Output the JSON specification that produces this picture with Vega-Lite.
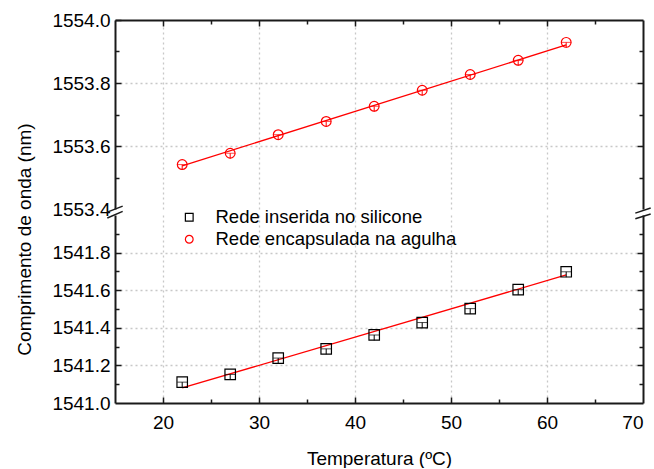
{
  "$schema": "https://vega.github.io/schema/vega-lite/v6.json",
  "padding": {"left": 15, "top": 11, "right": 5, "bottom": 0},
  "bounds": "flush",
  "title": {
    "text": "Comprimento de onda (nm)",
    "orient": "left",
    "anchor": "middle",
    "font": "Liberation Sans",
    "fontSize": 19,
    "fontWeight": "normal",
    "color": "#000000",
    "offset": 17
  },
  "config": {
    "font": "Liberation Sans",
    "view": {"stroke": null},
    "axis": {
      "labelFont": "Liberation Sans",
      "labelFontSize": 19,
      "labelColor": "#000000",
      "titleFont": "Liberation Sans",
      "titleFontSize": 19,
      "titleFontWeight": "normal",
      "titleColor": "#000000",
      "domainColor": "#1a1a1a",
      "domainWidth": 2,
      "tickColor": "#1a1a1a",
      "tickWidth": 1.5,
      "tickSize": -6,
      "gridColor": "#c8c8c8",
      "gridDash": [2, 3],
      "gridWidth": 1.3
    },
    "legend": {
      "labelFont": "Liberation Sans",
      "labelFontSize": 18.5,
      "labelColor": "#000000",
      "labelLimit": 400
    }
  },
  "datasets": {
    "medidas": [
      {"serie": "Rede encapsulada na agulha", "temp": 22, "lambda": 1553.541, "lambda_min": 1553.524},
      {"serie": "Rede encapsulada na agulha", "temp": 27, "lambda": 1553.577, "lambda_min": 1553.560},
      {"serie": "Rede encapsulada na agulha", "temp": 32, "lambda": 1553.636, "lambda_min": 1553.619},
      {"serie": "Rede encapsulada na agulha", "temp": 37, "lambda": 1553.678, "lambda_min": 1553.661},
      {"serie": "Rede encapsulada na agulha", "temp": 42, "lambda": 1553.726, "lambda_min": 1553.709},
      {"serie": "Rede encapsulada na agulha", "temp": 47, "lambda": 1553.777, "lambda_min": 1553.760},
      {"serie": "Rede encapsulada na agulha", "temp": 52, "lambda": 1553.827, "lambda_min": 1553.810},
      {"serie": "Rede encapsulada na agulha", "temp": 57, "lambda": 1553.872, "lambda_min": 1553.855},
      {"serie": "Rede encapsulada na agulha", "temp": 62, "lambda": 1553.929, "lambda_min": 1553.912},
      {"serie": "Rede inserida no silicone", "temp": 22, "lambda": 1541.111, "lambda_min": 1541.082},
      {"serie": "Rede inserida no silicone", "temp": 27, "lambda": 1541.152, "lambda_min": 1541.123},
      {"serie": "Rede inserida no silicone", "temp": 32, "lambda": 1541.239, "lambda_min": 1541.210},
      {"serie": "Rede inserida no silicone", "temp": 37, "lambda": 1541.288, "lambda_min": 1541.259},
      {"serie": "Rede inserida no silicone", "temp": 42, "lambda": 1541.362, "lambda_min": 1541.333},
      {"serie": "Rede inserida no silicone", "temp": 47, "lambda": 1541.428, "lambda_min": 1541.399},
      {"serie": "Rede inserida no silicone", "temp": 52, "lambda": 1541.502, "lambda_min": 1541.473},
      {"serie": "Rede inserida no silicone", "temp": 57, "lambda": 1541.603, "lambda_min": 1541.574},
      {"serie": "Rede inserida no silicone", "temp": 62, "lambda": 1541.698, "lambda_min": 1541.669}
    ],
    "ajuste": [
      {"serie": "Rede encapsulada na agulha", "temp": 22, "lambda": 1553.537},
      {"serie": "Rede encapsulada na agulha", "temp": 62, "lambda": 1553.921},
      {"serie": "Rede inserida no silicone", "temp": 22, "lambda": 1541.080},
      {"serie": "Rede inserida no silicone", "temp": 62, "lambda": 1541.681}
    ]
  },
  "spacing": 6,
  "vconcat": [
    {
      "width": 528,
      "height": 189,
      "layer": [
        {
          "data": {"name": "ajuste"},
          "transform": [{"filter": "datum.serie == 'Rede encapsulada na agulha'"}],
          "mark": {"type": "line", "color": "#ff0000", "strokeWidth": 1.3},
          "encoding": {
            "x": {
              "field": "temp", "type": "quantitative",
              "scale": {"domain": [15, 70], "nice": false, "zero": false},
              "axis": {
                "orient": "top", "title": null, "labels": false,
                "values": [20, 25, 30, 35, 40, 45, 50, 55, 60, 65],
                "tickSize": {"condition": {"test": "datum.value % 10 != 0", "value": -4}, "value": -6},
                "gridOpacity": {"condition": {"test": "datum.value % 10 != 0", "value": 0}, "value": 1}
              }
            },
            "y": {
              "field": "lambda", "type": "quantitative",
              "scale": {"domain": [1553.4, 1554.0], "nice": false, "zero": false},
              "axis": {
                "orient": "left", "title": null,
                "values": [1553.4, 1553.5, 1553.6, 1553.7, 1553.8, 1553.9, 1554.0],
                "format": ".1f",
                "labelPadding": 11,
                "labelExpr": "round(datum.value * 10) % 2 == 1 ? '' : datum.label",
                "tickSize": {"condition": {"test": "round(datum.value * 10) % 2 == 1", "value": -4}, "value": -6},
                "tickOpacity": {"condition": {"test": "abs(datum.value - 1553.4) < 0.001", "value": 0}, "value": 1},
                "gridOpacity": {"condition": {"test": "round(datum.value * 10) % 2 == 1 || abs(datum.value - 1553.4) < 0.001 || abs(datum.value - 1554.0) < 0.001", "value": 0}, "value": 1}
              }
            }
          }
        },
        {
          "data": {"name": "medidas"},
          "transform": [{"filter": "datum.serie == 'Rede encapsulada na agulha'"}],
          "mark": {"type": "rule", "color": "#ff0000", "strokeWidth": 1},
          "encoding": {
            "x": {"field": "temp", "type": "quantitative", "axis": null},
            "y": {"field": "lambda", "type": "quantitative", "axis": null},
            "y2": {"field": "lambda_min"}
          }
        },
        {
          "data": {"name": "medidas"},
          "transform": [{"filter": "datum.serie == 'Rede encapsulada na agulha'"}],
          "mark": {"type": "tick", "orient": "horizontal", "color": "#ff0000", "size": 10, "thickness": 1},
          "encoding": {
            "x": {"field": "temp", "type": "quantitative", "axis": null},
            "y": {"field": "lambda", "type": "quantitative", "axis": null}
          }
        },
        {
          "data": {"name": "medidas"},
          "transform": [{"filter": "datum.serie == 'Rede encapsulada na agulha'"}],
          "mark": {"type": "point", "filled": false, "size": 95, "strokeWidth": 1.2, "opacity": 1},
          "encoding": {
            "x": {"field": "temp", "type": "quantitative", "axis": null},
            "y": {
              "field": "lambda", "type": "quantitative",
              "axis": {
                "orient": "right", "title": null, "labels": false, "grid": false,
                "values": [1553.5, 1553.6, 1553.7, 1553.8, 1553.9],
                "tickSize": {"condition": {"test": "round(datum.value * 10) % 2 == 1", "value": -4}, "value": -6}
              }
            },
            "color": {
              "field": "serie", "type": "nominal",
              "scale": {"domain": ["Rede inserida no silicone", "Rede encapsulada na agulha"], "range": ["#000000", "#ff0000"]},
              "legend": {"orient": "none", "legendX": 65, "legendY": 188, "title": null, "symbolSize": 60, "symbolStrokeWidth": 1.2, "labelOffset": 17, "rowPadding": 3, "padding": 0}
            },
            "shape": {
              "field": "serie", "type": "nominal",
              "scale": {"domain": ["Rede inserida no silicone", "Rede encapsulada na agulha"], "range": ["square", "circle"]},
              "legend": {"orient": "none", "legendX": 65, "legendY": 188, "title": null, "symbolSize": 60, "symbolStrokeWidth": 1.2, "labelOffset": 17, "rowPadding": 3, "padding": 0}
            }
          }
        },
        {
          "data": {"values": [{}]},
          "mark": {"type": "rule", "color": "#1a1a1a", "strokeWidth": 1.5},
          "encoding": {
            "x": {"datum": 14.2, "type": "quantitative", "axis": null},
            "x2": {"datum": 15.8},
            "y": {"datum": 1553.390, "type": "quantitative", "axis": null},
            "y2": {"datum": 1553.409}
          }
        },
        {
          "data": {"values": [{}]},
          "mark": {"type": "rule", "color": "#1a1a1a", "strokeWidth": 1.5},
          "encoding": {
            "x": {"datum": 69.2, "type": "quantitative", "axis": null},
            "x2": {"datum": 70.8},
            "y": {"datum": 1553.387, "type": "quantitative", "axis": null},
            "y2": {"datum": 1553.403}
          }
        }
      ],
      "resolve": {"axis": {"x": "independent", "y": "independent"}}
    },
    {
      "width": 528,
      "height": 188,
      "layer": [
        {
          "data": {"name": "ajuste"},
          "transform": [{"filter": "datum.serie == 'Rede inserida no silicone'"}],
          "mark": {"type": "line", "color": "#ff0000", "strokeWidth": 1.3},
          "encoding": {
            "x": {
              "field": "temp", "type": "quantitative",
              "scale": {"domain": [15, 70], "nice": false, "zero": false},
              "axis": {
                "orient": "bottom", "title": "Temperatura (ºC)", "titlePadding": 17,
                "values": [20, 25, 30, 35, 40, 45, 50, 55, 60, 65, 70],
                "labelPadding": 16,
                "labelExpr": "datum.value % 10 != 0 ? '' : datum.label",
                "tickSize": {"condition": {"test": "datum.value % 10 != 0", "value": -4}, "value": -6},
                "tickOpacity": {"condition": {"test": "datum.value == 70", "value": 0}, "value": 1},
                "gridOpacity": {"condition": {"test": "datum.value % 10 != 0 || datum.value == 70", "value": 0}, "value": 1}
              }
            },
            "y": {
              "field": "lambda", "type": "quantitative",
              "scale": {"domain": [1541.0, 1542.0], "nice": false, "zero": false},
              "axis": {
                "orient": "left", "title": null,
                "values": [1541.0, 1541.1, 1541.2, 1541.3, 1541.4, 1541.5, 1541.6, 1541.7, 1541.8, 1541.9],
                "format": ".1f",
                "labelPadding": 11,
                "labelExpr": "round(datum.value * 10) % 2 == 1 ? '' : datum.label",
                "tickSize": {"condition": {"test": "round(datum.value * 10) % 2 == 1", "value": -4}, "value": -6},
                "tickOpacity": {"condition": {"test": "abs(datum.value - 1541.0) < 0.001", "value": 0}, "value": 1},
                "gridOpacity": {"condition": {"test": "round(datum.value * 10) % 2 == 1 || abs(datum.value - 1541.0) < 0.001", "value": 0}, "value": 1}
              }
            }
          }
        },
        {
          "data": {"name": "medidas"},
          "transform": [{"filter": "datum.serie == 'Rede inserida no silicone'"}],
          "mark": {"type": "rule", "color": "#000000", "strokeWidth": 1},
          "encoding": {
            "x": {"field": "temp", "type": "quantitative", "axis": null},
            "y": {"field": "lambda", "type": "quantitative", "axis": null},
            "y2": {"field": "lambda_min"}
          }
        },
        {
          "data": {"name": "medidas"},
          "transform": [{"filter": "datum.serie == 'Rede inserida no silicone'"}],
          "mark": {"type": "tick", "orient": "horizontal", "color": "#000000", "size": 10, "thickness": 1},
          "encoding": {
            "x": {"field": "temp", "type": "quantitative", "axis": null},
            "y": {"field": "lambda", "type": "quantitative", "axis": null}
          }
        },
        {
          "data": {"name": "medidas"},
          "transform": [{"filter": "datum.serie == 'Rede inserida no silicone'"}],
          "mark": {"type": "point", "filled": false, "size": 110, "strokeWidth": 1.2, "opacity": 1},
          "encoding": {
            "x": {"field": "temp", "type": "quantitative", "axis": null},
            "y": {
              "field": "lambda", "type": "quantitative",
              "axis": {
                "orient": "right", "title": null, "labels": false, "grid": false,
                "values": [1541.1, 1541.2, 1541.3, 1541.4, 1541.5, 1541.6, 1541.7, 1541.8, 1541.9],
                "tickSize": {"condition": {"test": "round(datum.value * 10) % 2 == 1", "value": -4}, "value": -6}
              }
            },
            "color": {
              "field": "serie", "type": "nominal",
              "scale": {"domain": ["Rede inserida no silicone", "Rede encapsulada na agulha"], "range": ["#000000", "#ff0000"]},
              "legend": {"orient": "none", "legendX": 65, "legendY": 188, "title": null, "symbolSize": 60, "symbolStrokeWidth": 1.2, "labelOffset": 17, "rowPadding": 3, "padding": 0}
            },
            "shape": {
              "field": "serie", "type": "nominal",
              "scale": {"domain": ["Rede inserida no silicone", "Rede encapsulada na agulha"], "range": ["square", "circle"]},
              "legend": {"orient": "none", "legendX": 65, "legendY": 188, "title": null, "symbolSize": 60, "symbolStrokeWidth": 1.2, "labelOffset": 17, "rowPadding": 3, "padding": 0}
            }
          }
        },
        {
          "data": {"values": [{}]},
          "mark": {"type": "rule", "color": "#1a1a1a", "strokeWidth": 1.5},
          "encoding": {
            "x": {"datum": 14.2, "type": "quantitative", "axis": null},
            "x2": {"datum": 15.8},
            "y": {"datum": 1541.984, "type": "quantitative", "axis": null},
            "y2": {"datum": 1542.019}
          }
        },
        {
          "data": {"values": [{}]},
          "mark": {"type": "rule", "color": "#1a1a1a", "strokeWidth": 1.5},
          "encoding": {
            "x": {"datum": 69.2, "type": "quantitative", "axis": null},
            "x2": {"datum": 70.8},
            "y": {"datum": 1541.980, "type": "quantitative", "axis": null},
            "y2": {"datum": 1542.005}
          }
        }
      ],
      "resolve": {"axis": {"x": "independent", "y": "independent"}}
    }
  ]
}
